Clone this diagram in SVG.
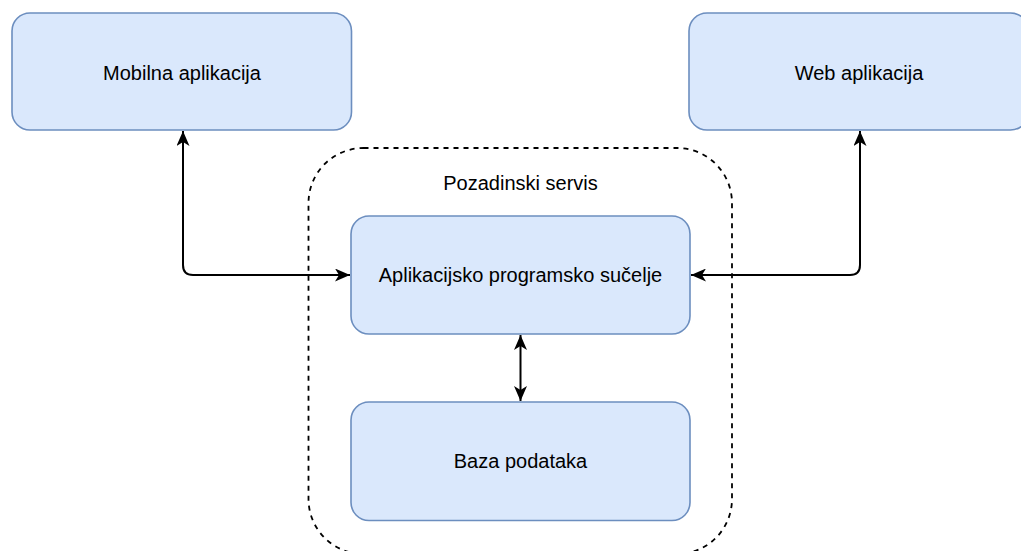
<svg xmlns="http://www.w3.org/2000/svg" width="1021" height="551" viewBox="0 0 1021 551">
  <style>
    .box { fill: #dae8fc; stroke: #6c8ebf; stroke-width: 1.6; }
    .label { font-family: "Liberation Sans", Arial, Helvetica, sans-serif; font-size: 20px; fill: #000; text-anchor: middle; }
    .group { fill: none; stroke: #000; stroke-width: 1.8; stroke-dasharray: 5 5; }
    .link { fill: none; stroke: #000; stroke-width: 2; }
  </style>
  <defs>
    <marker id="arrow" viewBox="0 0 15 13" refX="15" refY="6.5" markerWidth="15" markerHeight="13" markerUnits="userSpaceOnUse" orient="auto-start-reverse">
      <path d="M0,0 L15,6.5 L0,13 L4,6.5 Z" fill="#000"/>
    </marker>
  </defs>

  <g id="backend-group">
    <rect class="group" x="308.5" y="148" width="423.5" height="406" rx="55" ry="55"/>
    <text class="label" x="520.5" y="190">Pozadinski servis</text>
  </g>

  <g id="mobile-app">
    <rect class="box" x="12" y="13" width="339.5" height="117" rx="18" ry="18"/>
    <text class="label" x="182" y="80">Mobilna aplikacija</text>
  </g>

  <g id="web-app">
    <rect class="box" x="689" y="13" width="339.5" height="117" rx="18" ry="18"/>
    <text class="label" x="859" y="80">Web aplikacija</text>
  </g>

  <g id="api">
    <rect class="box" x="351" y="216" width="339" height="118" rx="18" ry="18"/>
    <text class="label" x="520.5" y="282">Aplikacijsko programsko sučelje</text>
  </g>

  <g id="database">
    <rect class="box" x="351" y="402" width="339" height="118.5" rx="18" ry="18"/>
    <text class="label" x="520.5" y="468">Baza podataka</text>
  </g>

  <g id="connectors">
    <path class="link" d="M183,131 L183,265 Q183,275 193,275 L350,275" marker-start="url(#arrow)" marker-end="url(#arrow)"/>
    <path class="link" d="M860,131 L860,265 Q860,275 850,275 L691,275" marker-start="url(#arrow)" marker-end="url(#arrow)"/>
    <path class="link" d="M520.5,335 L520.5,401" marker-start="url(#arrow)" marker-end="url(#arrow)"/>
  </g>
</svg>
